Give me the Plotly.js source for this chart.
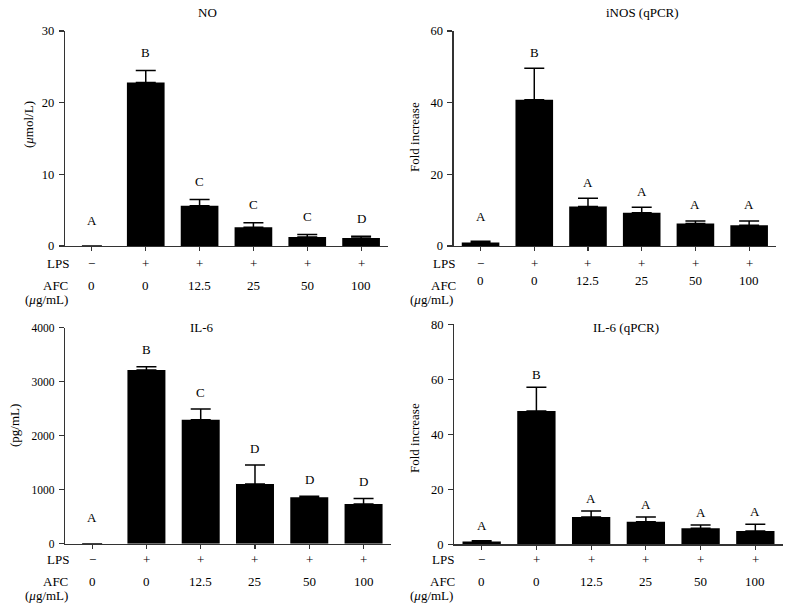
<!DOCTYPE html>
<html>
<head>
<meta charset="utf-8">
<script src="https://cdn.plot.ly/plotly-3.0.1.min.js"></script>
<style>html,body{margin:0;padding:0;background:#fff;}#chart{width:792px;height:610px;}</style>
</head>
<body>
<div id="chart"></div>
<script>
// ---- data ----
const categories = [0, 1, 2, 3, 4, 5];
const lpsLabels = ['−', '+', '+', '+', '+', '+'];
const afcLabels = ['0', '0', '12.5', '25', '50', '100'];

const noValues = [0, 22.8, 5.6, 2.6, 1.26, 1.1];
const noErr = [null, 1.7, 0.9, 0.65, 0.34, 0.25];
const noLetters = ['A', 'B', 'C', 'C', 'C', 'D'];

const inosValues = [1.0, 40.8, 11.0, 9.3, 6.3, 5.8];
const inosErr = [0.3, 8.8, 2.3, 1.5, 0.7, 1.2];
const inosLetters = ['A', 'B', 'A', 'A', 'A', 'A'];

const il6Values = [0, 3216, 2296, 1105, 858, 735];
const il6Err = [null, 62, 198, 352, 19, 104];
const il6Letters = ['A', 'B', 'C', 'D', 'D', 'D'];

const il6qValues = [1.0, 48.5, 9.9, 8.2, 5.8, 4.85];
const il6qErr = [0.33, 8.6, 2.2, 1.7, 1.2, 2.45];
const il6qLetters = ['A', 'B', 'A', 'A', 'A', 'A'];

// ---- layout helpers ----
const W = 792, H = 610;
const px = x => x / W;
const py = y => 1 - y / H;
const FONT = {family: 'Liberation Serif', size: 13, color: '#000'};

const panels = [
  {values: noValues, err: noErr, letters: noLetters, title: 'NO', ytitle: '(<i>μ</i>mol/L)',
   xdom: [65, 388], ydom: [31, 246], range: [0, 30], dtick: 10, tickSize: 12.5,
   titlePos: [207, 13], ytPos: [28, 125],
   lpsY: 263, valY: 285, afcPos: [55, 285], unitPos: [46, 299], lpsX: 58,
   letterShift: 18, firstShift: 26},
  {values: inosValues, err: inosErr, letters: inosLetters, title: 'iNOS (qPCR)', ytitle: 'Fold increase',
   xdom: [453.7, 776], ydom: [31, 246], range: [0, 60], dtick: 20, tickSize: 12.5,
   titlePos: [642.7, 13], ytPos: [414, 137],
   lpsY: 263, valY: 280, afcPos: [443.5, 285], unitPos: [432, 299], lpsX: 444,
   letterShift: 16, firstShift: 25},
  {values: il6Values, err: il6Err, letters: il6Letters, title: 'IL-6', ytitle: '(pg/mL)',
   xdom: [65, 390.7], ydom: [327.7, 543.7], range: [0, 4000], dtick: 1000, tickSize: 11.5,
   titlePos: [201.7, 327.7], ytPos: [14, 426],
   lpsY: 559, valY: 581.7, afcPos: [55, 581.7], unitPos: [46, 595.5], lpsX: 58,
   letterShift: 17, firstShift: 26},
  {values: il6qValues, err: il6qErr, letters: il6qLetters, title: 'IL-6 (qPCR)', ytitle: 'Fold increase',
   xdom: [454.3, 782.7], ydom: [324.3, 544.3], range: [0, 80], dtick: 20, tickSize: 12.5,
   titlePos: [626, 327.7], ytPos: [414, 438],
   lpsY: 559, valY: 581.7, afcPos: [442.7, 581.7], unitPos: [432, 595.5], lpsX: 443,
   letterShift: 13, firstShift: 15}
];

const data = [];
const layout = {
  width: W, height: H,
  margin: {l: 0, r: 0, t: 0, b: 0},
  paper_bgcolor: '#fff', plot_bgcolor: '#fff',
  showlegend: false,
  font: FONT,
  annotations: []
};

panels.forEach((p, i) => {
  const n = i + 1;
  const xa = n === 1 ? 'x' : 'x' + n;
  const ya = n === 1 ? 'y' : 'y' + n;
  const xk = n === 1 ? 'xaxis' : 'xaxis' + n;
  const yk = n === 1 ? 'yaxis' : 'yaxis' + n;

  data.push({
    type: 'bar', x: categories, y: p.values, xaxis: xa, yaxis: ya,
    marker: {color: '#000', line: {width: 0}},
    width: 0.7,
    error_y: {type: 'data', array: p.err, arrayminus: p.err.map(e => (e == null ? null : 0)), symmetric: false,
              color: '#000', thickness: 1.5, width: 10},
    hoverinfo: 'none'
  });

  layout[xk] = {
    domain: [px(p.xdom[0]), px(p.xdom[1])],
    anchor: ya, range: [-0.5, 5.5],
    showgrid: false, zeroline: false, showticklabels: false,
    showline: true, linecolor: '#333', linewidth: 1.3,
    ticks: 'outside', ticklen: 4, tickwidth: 1.1, tickcolor: '#333',
    tickvals: categories, fixedrange: true
  };
  layout[yk] = {
    domain: [py(p.ydom[1]), py(p.ydom[0])],
    anchor: xa, range: p.range, dtick: p.dtick, tick0: 0,
    showgrid: false, zeroline: false,
    showline: true, linecolor: '#333', linewidth: 1.3,
    ticks: 'outside', ticklen: 5, tickwidth: 1.1, tickcolor: '#333',
    tickfont: Object.assign({}, FONT, {size: p.tickSize}), ticklabelstandoff: 2, fixedrange: true
  };

  // letters
  p.letters.forEach((L, k) => {
    layout.annotations.push({
      xref: xa, yref: ya, x: categories[k], y: p.values[k] + (p.err[k] || 0),
      text: L, showarrow: false, font: FONT,
      yanchor: 'middle', yshift: k === 0 ? p.firstShift : p.letterShift
    });
  });

  // LPS / AFC rows
  categories.forEach((c, k) => {
    layout.annotations.push({xref: xa, yref: 'paper', x: c, y: py(p.lpsY), text: lpsLabels[k],
      showarrow: false, font: FONT, yanchor: 'middle'});
    layout.annotations.push({xref: xa, yref: 'paper', x: c, y: py(p.valY), text: afcLabels[k],
      showarrow: false, font: FONT, yanchor: 'middle'});
  });
  layout.annotations.push({xref: 'paper', yref: 'paper', x: px(p.lpsX), y: py(p.lpsY), text: 'LPS',
    showarrow: false, font: FONT, xanchor: 'center', yanchor: 'middle'});
  layout.annotations.push({xref: 'paper', yref: 'paper', x: px(p.afcPos[0]), y: py(p.afcPos[1]), text: 'AFC',
    showarrow: false, font: FONT, xanchor: 'center', yanchor: 'middle'});
  layout.annotations.push({xref: 'paper', yref: 'paper', x: px(p.unitPos[0]), y: py(p.unitPos[1]), text: '(<i>μ</i>g/mL)',
    showarrow: false, font: FONT, xanchor: 'center', yanchor: 'middle'});

  // panel title
  layout.annotations.push({xref: 'paper', yref: 'paper', x: px(p.titlePos[0]), y: py(p.titlePos[1]), text: p.title,
    showarrow: false, font: FONT, xanchor: 'center', yanchor: 'middle'});
  // y-axis title
  layout.annotations.push({xref: 'paper', yref: 'paper', x: px(p.ytPos[0]), y: py(p.ytPos[1]), text: p.ytitle,
    showarrow: false, font: FONT, textangle: -90, xanchor: 'center', yanchor: 'middle'});
});

Plotly.newPlot('chart', data, layout, {displayModeBar: false, staticPlot: true});
</script>
</body>
</html>
